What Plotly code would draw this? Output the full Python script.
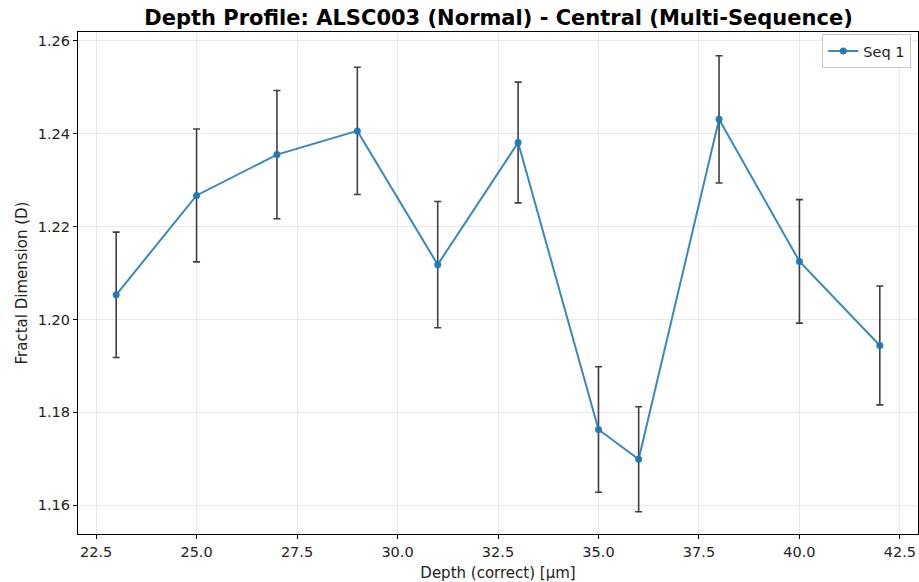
import plotly.graph_objects as go

depth = [23, 25, 27, 29, 31, 33, 35, 36, 38, 40, 42]
fractal_d = [1.2053, 1.2267, 1.2355, 1.2406, 1.2118, 1.2381, 1.1763, 1.1699, 1.2431, 1.2125, 1.1944]
err = [0.0135, 0.0143, 0.0138, 0.0137, 0.0136, 0.0130, 0.0135, 0.0113, 0.0137, 0.0133, 0.0128]
x_ticks = [22.5, 25.0, 27.5, 30.0, 32.5, 35.0, 37.5, 40.0, 42.5]
y_ticks = [1.16, 1.18, 1.20, 1.22, 1.24, 1.26]

FONT = "DejaVu Sans"
fig = go.Figure()

# error bars underneath
fig.add_trace(go.Scatter(
    x=depth, y=fractal_d, mode="markers",
    marker=dict(size=1, color="rgba(0,0,0,0)"),
    error_y=dict(type="data", array=err, visible=True,
                 color="rgba(30,30,30,0.85)", thickness=1.6, width=3.5),
    showlegend=False, hoverinfo="skip"))

fig.add_trace(go.Scatter(
    x=depth, y=fractal_d, mode="lines+markers", name="Seq 1",
    line=dict(color="rgba(31,119,180,0.88)", width=2),
    marker=dict(size=7, color="rgba(31,119,180,0.95)")))

axis_common = dict(
    showline=True, linecolor="black", linewidth=1.2, mirror=True,
    ticks="outside", ticklen=4, tickwidth=1, tickcolor="black",
    showgrid=True, gridcolor="rgba(200,200,200,0.4)", gridwidth=1,
    zeroline=False, tickfont=dict(family=FONT, size=14.5, color="#222"))

fig.update_xaxes(range=[22.05, 42.95], tickvals=x_ticks,
                 ticktext=[f"{v:.1f}" for v in x_ticks],
                 title=dict(text="Depth (correct) [μm]", font=dict(family=FONT, size=15, color="#222"), standoff=9),
                 **axis_common)
fig.update_yaxes(range=[1.1538, 1.2619], tickvals=y_ticks,
                 ticktext=[f"{v:.2f}" for v in y_ticks],
                 title=dict(text="Fractal Dimension (D)", font=dict(family=FONT, size=15, color="#222"), standoff=6),
                 **axis_common)

fig.update_layout(
    width=919, height=582,
    margin=dict(l=78, r=1, t=32, b=48),
    paper_bgcolor="white", plot_bgcolor="white",
    font=dict(family=FONT, color="black"),
    title=dict(text="<b>Depth Profile: ALSC003 (Normal) - Central (Multi-Sequence)</b>",
               x=0.5425, xanchor="center", y=0.97, yanchor="middle",
               font=dict(family=FONT, size=21, color="black")),
    legend=dict(x=0.992, xanchor="right", y=0.996, yanchor="top",
                bgcolor="rgba(255,255,255,0.9)", bordercolor="rgba(200,200,200,1)",
                borderwidth=1, font=dict(family=FONT, size=14.5, color="#222")),
)

fig.write_html("out.html")
